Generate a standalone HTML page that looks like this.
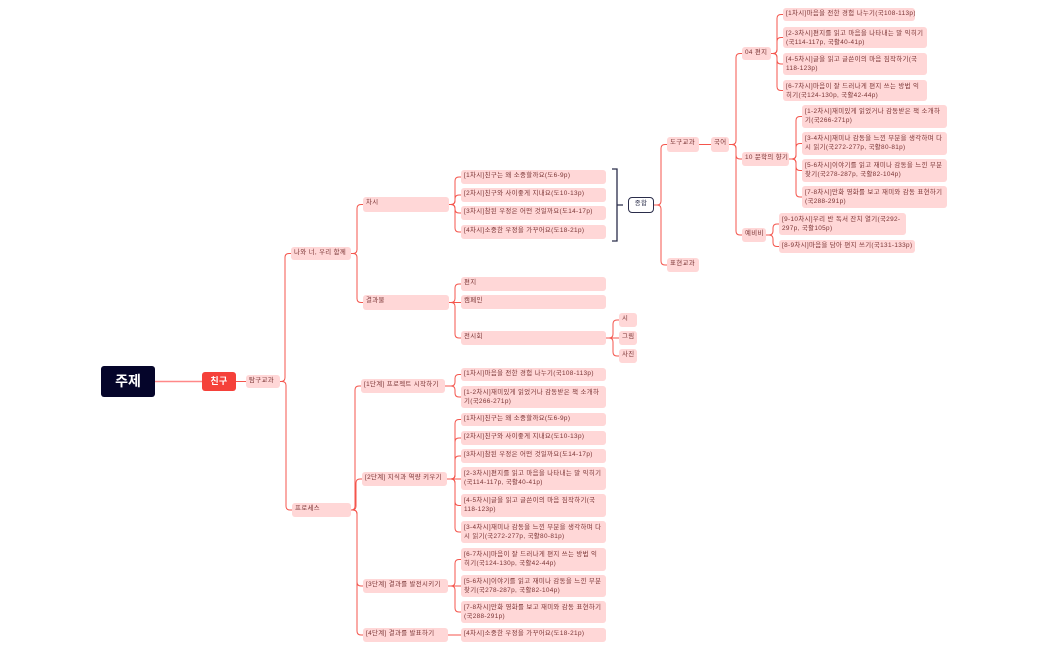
<!DOCTYPE html>
<html><head><meta charset="utf-8">
<style>
body{margin:0;width:1049px;height:650px;background:#fff;position:relative;overflow:hidden;font-family:"Liberation Sans","Noto Sans CJK KR",sans-serif;}
.n{position:absolute;background:#ffd7d7;border-radius:3px;font-size:6.4px;letter-spacing:0.35px;color:#7a3434;padding:2px 3px;line-height:9px;box-sizing:border-box;white-space:normal;overflow:hidden;}
.s{line-height:10px;padding:1px 3px;white-space:nowrap;}
svg{position:absolute;left:0;top:0;}
</style></head><body>
<svg id="sv" width="1049" height="650">
<path d="M612 169 H617 V241 H612 M617 205 H623" fill="none" stroke="#2a2d4a" stroke-width="1.3"/>
</svg>
<div id="r" class="n" style="left:101px;top:366px;width:54px;height:31px;background:#05052a;color:#fff;font-size:14px;font-weight:bold;line-height:31px;padding:0;text-align:center;border-radius:3px;letter-spacing:0">주제</div>
<div id="c" class="n" style="left:202px;top:372px;width:34px;height:19px;background:#f5413a;color:#fff;font-size:9px;font-weight:bold;line-height:19px;padding:0;text-align:center">친구</div>
<div id="t" class="n s" style="left:246px;top:375px;width:34px;height:13px">탐구교과</div>
<div id="a" class="n s" style="left:291px;top:247px;width:60px;height:13px">나와 너, 우리 함께</div>
<div id="p" class="n s" style="left:292px;top:503px;width:59px;height:14px">프로세스</div>
<div id="a1" class="n s" style="left:363px;top:197px;width:86px;height:15px">차시</div>
<div id="a2" class="n s" style="left:363px;top:295px;width:86px;height:15px">결과물</div>
<div id="a11" class="n s" style="left:461px;top:170px;width:145px;height:14px">[1차시]친구는 왜 소중할까요(도6-9p)</div>
<div id="a12" class="n s" style="left:461px;top:188px;width:145px;height:14px">[2차시]친구와 사이좋게 지내요(도10-13p)</div>
<div id="a13" class="n s" style="left:461px;top:206px;width:145px;height:14px">[3차시]참된 우정은 어떤 것일까요(도14-17p)</div>
<div id="a14" class="n s" style="left:461px;top:225px;width:145px;height:14px">[4차시]소중한 우정을 가꾸어요(도18-21p)</div>
<div id="a21" class="n s" style="left:461px;top:277px;width:145px;height:14px">편지</div>
<div id="a22" class="n s" style="left:461px;top:295px;width:145px;height:14px">캠페인</div>
<div id="a23" class="n s" style="left:461px;top:331px;width:145px;height:14px">전시회</div>
<div id="s1" class="n s" style="left:619px;top:313px;width:18px;height:14px">시</div>
<div id="s2" class="n s" style="left:619px;top:331px;width:18px;height:14px">그림</div>
<div id="s3" class="n s" style="left:619px;top:349px;width:18px;height:14px">사진</div>
<div id="j" class="n s" style="left:628px;top:197px;width:26px;height:16px;background:#fff;border:1.3px solid #2a2d4a;color:#2a2d4a;text-align:center;line-height:12px;padding:0;border-radius:4px">종합</div>
<div id="d" class="n s" style="left:667px;top:137px;width:32px;height:15px">도구교과</div>
<div id="e" class="n s" style="left:667px;top:258px;width:32px;height:14px">표현교과</div>
<div id="k" class="n s" style="left:711px;top:137px;width:18px;height:15px">국어</div>
<div id="k1" class="n s" style="left:742px;top:47px;width:29px;height:13px">04 편지</div>
<div id="k2" class="n s" style="left:742px;top:152px;width:47px;height:14px">10 문학의 향기</div>
<div id="k3" class="n s" style="left:742px;top:228px;width:24px;height:14px">예비비</div>
<div id="k1a" class="n s" style="left:783px;top:8px;width:132px;height:13px">[1차시]마음을 전한 경험 나누기(국108-113p)</div>
<div id="k1b" class="n" style="left:783px;top:27px;width:144px;height:21px">[2-3차시]편지를 읽고 마음을 나타내는 말 익히기(국114-117p, 국활40-41p)</div>
<div id="k1c" class="n" style="left:783px;top:53px;width:144px;height:22px">[4-5차시]글을 읽고 글쓴이의 마음 짐작하기(국118-123p)</div>
<div id="k1d" class="n" style="left:783px;top:80px;width:144px;height:21px">[6-7차시]마음이 잘 드러나게 편지 쓰는 방법 익히기(국124-130p, 국활42-44p)</div>
<div id="k2a" class="n" style="left:802px;top:105px;width:145px;height:23px">[1-2차시]재미있게 읽었거나 감동받은 책 소개하기(국266-271p)</div>
<div id="k2b" class="n" style="left:802px;top:132px;width:145px;height:23px">[3-4차시]재미나 감동을 느낀 부분을 생각하며 다시 읽기(국272-277p, 국활80-81p)</div>
<div id="k2c" class="n" style="left:802px;top:159px;width:145px;height:23px">[5-6차시]이야기를 읽고 재미나 감동을 느낀 부분 찾기(국278-287p, 국활82-104p)</div>
<div id="k2d" class="n" style="left:802px;top:186px;width:145px;height:22px">[7-8차시]만화 영화를 보고 재미와 감동 표현하기(국288-291p)</div>
<div id="k3a" class="n" style="left:779px;top:213px;width:127px;height:22px">[9-10차시]우리 반 독서 잔치 열기(국292-297p, 국활105p)</div>
<div id="k3b" class="n s" style="left:779px;top:240px;width:136px;height:13px">[8-9차시]마음을 담아 편지 쓰기(국131-133p)</div>
<div id="p1" class="n s" style="left:361px;top:379px;width:84px;height:14px">[1단계] 프로젝트 시작하기</div>
<div id="p2" class="n s" style="left:362px;top:472px;width:85px;height:14px">[2단계] 지식과 역량 키우기</div>
<div id="p3" class="n s" style="left:363px;top:579px;width:85px;height:14px">[3단계] 결과를 발전시키기</div>
<div id="p4" class="n s" style="left:363px;top:628px;width:85px;height:14px">[4단계] 결과를 발표하기</div>
<div id="p11" class="n s" style="left:461px;top:368px;width:145px;height:13px">[1차시]마음을 전한 경험 나누기(국108-113p)</div>
<div id="p12" class="n" style="left:461px;top:386px;width:145px;height:22px">[1-2차시]재미있게 읽었거나 감동받은 책 소개하기(국266-271p)</div>
<div id="p21" class="n s" style="left:461px;top:413px;width:145px;height:13px">[1차시]친구는 왜 소중할까요(도6-9p)</div>
<div id="p22" class="n s" style="left:461px;top:431px;width:145px;height:14px">[2차시]친구와 사이좋게 지내요(도10-13p)</div>
<div id="p23" class="n s" style="left:461px;top:449px;width:145px;height:14px">[3차시]참된 우정은 어떤 것일까요(도14-17p)</div>
<div id="p24" class="n" style="left:461px;top:467px;width:145px;height:23px">[2-3차시]편지를 읽고 마음을 나타내는 말 익히기(국114-117p, 국활40-41p)</div>
<div id="p25" class="n" style="left:461px;top:494px;width:145px;height:23px">[4-5차시]글을 읽고 글쓴이의 마음 짐작하기(국118-123p)</div>
<div id="p26" class="n" style="left:461px;top:521px;width:145px;height:22px">[3-4차시]재미나 감동을 느낀 부분을 생각하며 다시 읽기(국272-277p, 국활80-81p)</div>
<div id="p31" class="n" style="left:461px;top:548px;width:145px;height:23px">[6-7차시]마음이 잘 드러나게 편지 쓰는 방법 익히기(국124-130p, 국활42-44p)</div>
<div id="p32" class="n" style="left:461px;top:575px;width:145px;height:22px">[5-6차시]이야기를 읽고 재미나 감동을 느낀 부분 찾기(국278-287p, 국활82-104p)</div>
<div id="p33" class="n" style="left:461px;top:601px;width:145px;height:22px">[7-8차시]만화 영화를 보고 재미와 감동 표현하기(국288-291p)</div>
<div id="p41" class="n s" style="left:461px;top:628px;width:145px;height:14px">[4차시]소중한 우정을 가꾸어요(도18-21p)</div>
<script>
var E=[["r","c"],["c","t"],["t","a"],["t","p"],["a","a1"],["a","a2"],
["a1","a11"],["a1","a12"],["a1","a13"],["a1","a14"],["a2","a21"],["a2","a22"],["a2","a23"],
["a23","s1"],["a23","s2"],["a23","s3"],["j","d"],["j","e"],["d","k"],["k","k1"],["k","k2"],["k","k3"],
["k1","k1a"],["k1","k1b"],["k1","k1c"],["k1","k1d"],["k2","k2a"],["k2","k2b"],["k2","k2c"],["k2","k2d"],
["k3","k3a"],["k3","k3b"],["p","p1"],["p","p2"],["p","p3"],["p","p4"],["p1","p11"],["p1","p12"],
["p2","p21"],["p2","p22"],["p2","p23"],["p2","p24"],["p2","p25"],["p2","p26"],["p3","p31"],["p3","p32"],["p3","p33"],["p4","p41"]];
var sv=document.getElementById("sv"),ns="http://www.w3.org/2000/svg";
function b(id){var e=document.getElementById(id);return{x:e.offsetLeft,y:e.offsetTop,w:e.offsetWidth,h:e.offsetHeight};}
E.forEach(function(q){var A=b(q[0]),B=b(q[1]);var x1=A.x+A.w,y1=A.y+A.h/2,x2=B.x,y2=B.y+B.h/2;
var tx=x2-6;if(q[0]=="r"||q[0]=="c")tx=(x1+x2)/2;var d;var dy=y2-y1,rr=Math.min(4,Math.abs(dy)/2),sg=dy>0?1:-1;
if(Math.abs(dy)<1)d="M"+x1+" "+y1+"H"+x2;else d="M"+x1+" "+y1+"H"+(tx-rr)+"Q"+tx+" "+y1+" "+tx+" "+(y1+sg*rr)+"V"+(y2-sg*rr)+"Q"+tx+" "+y2+" "+(tx+rr)+" "+y2+"H"+x2;
var p=document.createElementNS(ns,"path");p.setAttribute("d",d);p.setAttribute("fill","none");
p.setAttribute("stroke",q[0]=="r"?"#f88":"#f4554c");p.setAttribute("stroke-width",q[0]=="r"?"1.5":"1");sv.appendChild(p);});
</script>
</body></html>
